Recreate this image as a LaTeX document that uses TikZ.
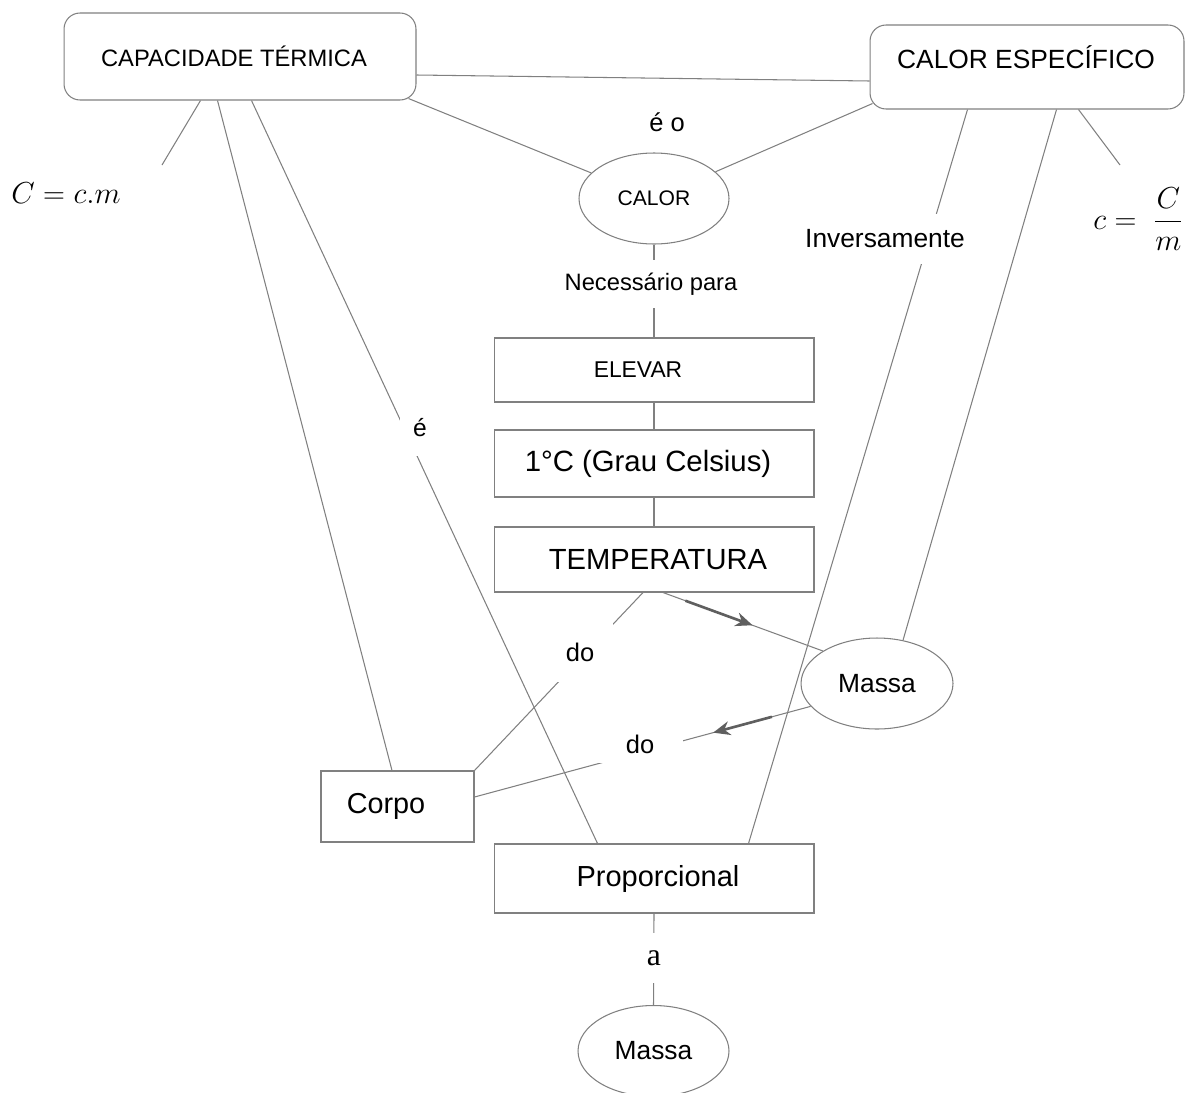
\documentclass[tikz,border=0pt]{standalone}
\usepackage{fontspec}
\setmainfont{Liberation Sans}
\newfontfamily\serifa{Liberation Serif}
\usetikzlibrary{shapes.geometric,calc,arrows.meta}
\definecolor{lg}{RGB}{128,128,128}
\definecolor{ag}{RGB}{95,95,95}
\newcommand{\fs}[1]{\fontsize{#1}{#1}\selectfont}
\tikzset{
  conn/.style={draw=lg, line width=0.6pt},
  rbox/.style={draw=lg, line width=0.6pt, rectangle, rounded corners=0.32cm, inner sep=0pt},
  sbox/.style={draw=lg, line width=0.6pt, rectangle, inner sep=0pt, minimum width=6.4cm},
  ell/.style={draw=lg, line width=0.6pt, ellipse, inner sep=0pt},
  lab/.style={fill=white, inner sep=0pt, text=black},
  marrow/.style={draw=ag, line width=1.5pt, -{Stealth[length=0.34cm, width=0.28cm]}},
}
\begin{document}
\begin{tikzpicture}[x=0.02cm, y=-0.02cm]
\useasboundingbox (0,0) rectangle (1185,1092);

% ---- nodes ----
\node[rbox, minimum width=7.04cm, minimum height=1.74cm] (cap) at (240,56.5) {\fs{13.5}\hspace*{-0.24cm}CAPACIDADE TÉRMICA};
\node[rbox, minimum width=6.28cm, minimum height=1.68cm] (esp) at (1027,67) {};
\node (esptext) at (1026,57) {\fs{15}CALOR ESPECÍFICO};

\node[ell, minimum width=3cm, minimum height=1.82cm] (calor) at (654,198.5) {\fs{12}CALOR};
\node (eo) at (667,122) {\fs{14.5}é o};

\node[sbox, minimum height=1.28cm] (elevar) at (654,370) {\fs{13}\hspace*{-0.64cm}ELEVAR};
\node[sbox, minimum height=1.34cm] (grau) at (654,463.5) {\fs{16.7}\hspace*{-0.24cm}1°C (Grau Celsius)};
\node[sbox, minimum height=1.3cm] (temp) at (654,559.5) {\fs{16.6}\hspace*{0.16cm}TEMPERATURA};

\node[ell, minimum width=3.04cm, minimum height=1.82cm] (massaR) at (877,683.5) {\fs{15}Massa};
\node[sbox, minimum width=3.06cm, minimum height=1.42cm] (corpo) at (397.5,806.5) {\fs{16.4}\hspace*{-0.46cm}Corpo};
\node[sbox, minimum height=1.38cm] (prop) at (654,878.5) {\fs{16.5}\hspace*{0.16cm}Proporcional};
\node[ell, minimum width=3.02cm, minimum height=1.82cm] (massaB) at (653.5,1051) {\fs{15}Massa};

% formulas
\node[anchor=west, inner sep=0pt] (fcap) at (11,193) {\fs{16.5}$C = c.m$};
\node[anchor=west, inner sep=0pt] (fesp) at (1093,219) {\fs{16.5}$\displaystyle c =\; \frac{C}{m}$};

% free ends
\coordinate (capf) at (162,165);
\coordinate (espf) at (1120,165);

% ---- connectors ----
\draw[conn] ($(cap.east)+(0,18.5)$) -- ($(esp.west)+(0,14)$);
\draw[conn] ($(cap.south east)+(-8,-2)$) -- (calor);
\draw[conn] ($(esp.south west)+(3,-6)$) -- (calor);
\draw[conn] ($(cap.south west)+(137,0)$) -- (capf);
\draw[conn] ($(cap.south west)+(154,0)$) -- ($(corpo.north)+(-5.5,0)$);
\draw[conn] ($(cap.south west)+(188,0)$) -- ($(prop.north west)+(104,0)$);

\draw[conn] ($(esp.south west)+(98,0)$) -- ($(prop.north west)+(255,0)$);
\draw[conn] ($(esp.south west)+(187,0)$) -- (massaR.59);
\draw[conn] ($(esp.south west)+(209,0)$) -- (espf);

\draw[conn] (calor.south) -- (elevar.north);
\draw[conn] (elevar.south) -- (grau.north);
\draw[conn] (grau.south) -- (temp.north);

\draw[conn] ($(temp.south)+(-11,0)$) -- (corpo.north east);
\draw[conn] ($(temp.south)+(9,0)$) -- (massaR.149);
\draw[marrow] ($($(temp.south)+(9,0)$)!0.14!(massaR.149)$) -- ($($(temp.south)+(9,0)$)!0.56!(massaR.149)$);

\draw[conn] (massaR.199) -- ($(corpo.east)+(0,-9.5)$);
\draw[marrow] ($(massaR.199)!0.115!($(corpo.east)+(0,-9.5)$)$) -- ($(massaR.199)!0.29!($(corpo.east)+(0,-9.5)$)$);

\draw[conn] (prop.south) -- (massaB.north);

% ---- labels on connectors ----
\node[lab, minimum width=0.8cm, minimum height=1.1cm] (le) at (420,428) {\fs{14}é};
\node[lab, minimum width=3.6cm, minimum height=0.96cm] (lnec) at (651,284) {\fs{13.5}Necessário para};
\node[lab, minimum width=3.3cm, minimum height=1cm] (linv) at (885,239) {\fs{15}Inversamente};
\node[lab, minimum width=1.3cm, minimum height=1.2cm] (ldo1) at (580,652) {\fs{14.5}do};
\node[lab, minimum width=1.7cm, minimum height=0.75cm] (ldo2) at (640,744) {\fs{14.5}do};
\node[lab, minimum width=0.8cm, minimum height=1cm] (la) at (654,958) {\serifa\fs{18}a};
\end{tikzpicture}
\end{document}
